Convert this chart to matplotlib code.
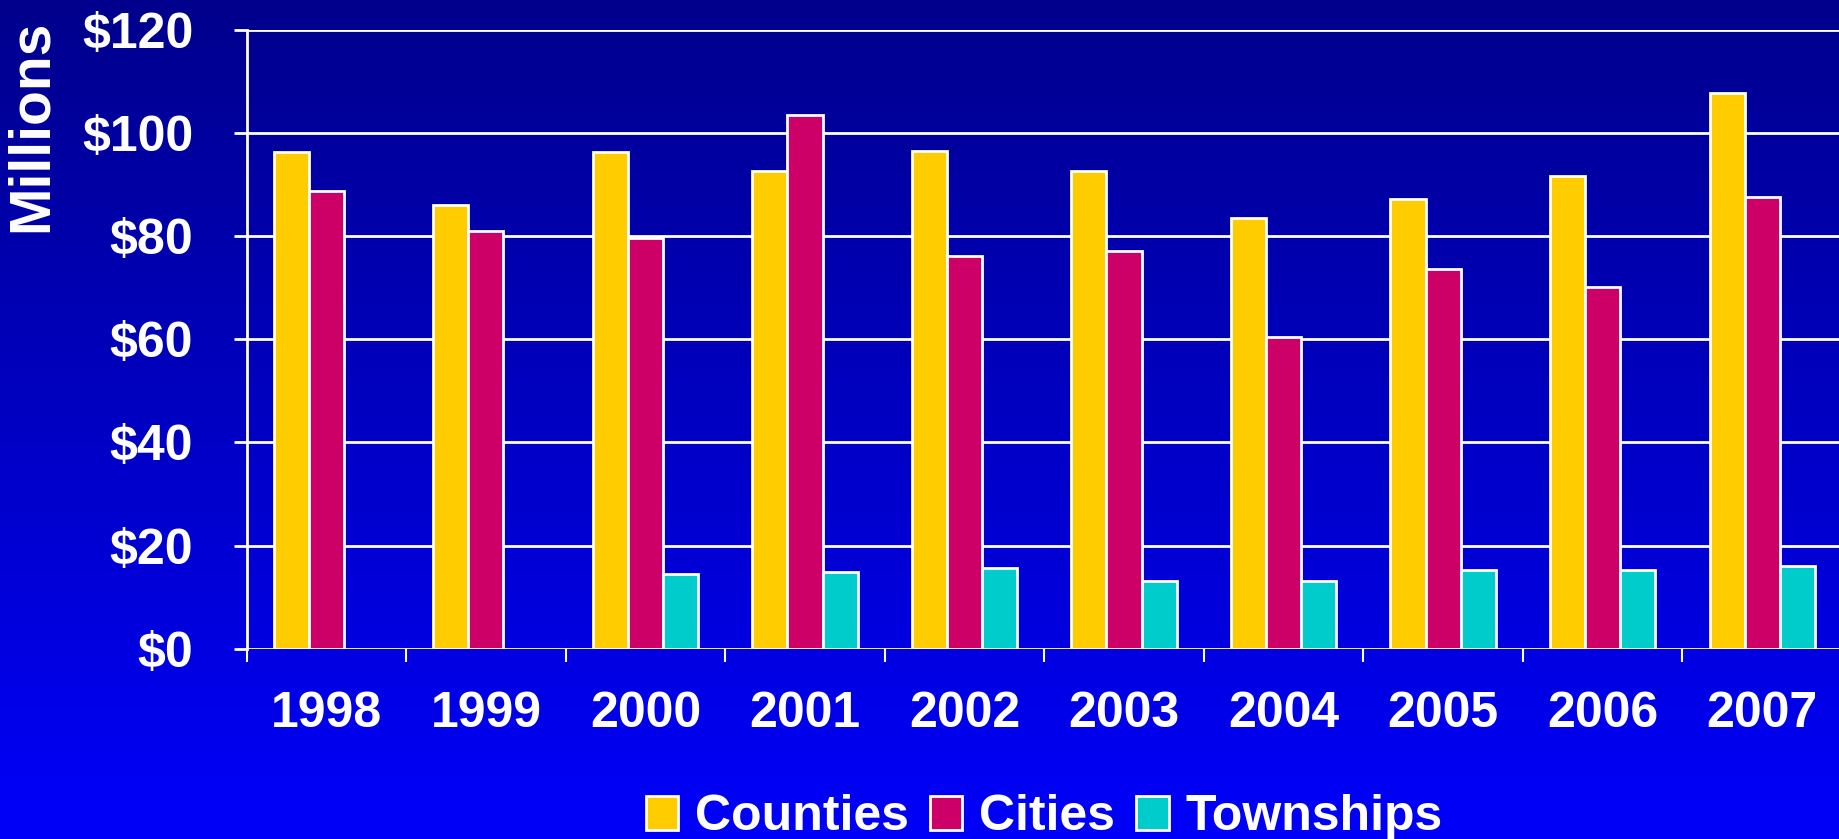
import matplotlib
matplotlib.use("Agg")
import matplotlib.pyplot as plt
import numpy as np

plt.rcParams['font.family'] = ['Liberation Sans', 'DejaVu Sans']
plt.rcParams['font.weight'] = 'bold'

years = ["1998", "1999", "2000", "2001", "2002", "2003", "2004", "2005", "2006", "2007"]
counties = [96.2, 86.0, 96.2, 92.5, 96.5, 92.5, 83.5, 87.2, 91.7, 107.7]
cities = [88.8, 81.0, 79.7, 103.5, 76.2, 77.1, 60.5, 73.7, 70.1, 87.6]
townships = [np.nan, np.nan, 14.5, 14.9, 15.7, 13.2, 13.2, 15.3, 15.3, 16.1]
y_ticks = [0, 20, 40, 60, 80, 100, 120]
y_labels = ["$0", "$20", "$40", "$60", "$80", "$100", "$120"]

series = [("Counties", counties, "#FFCC00"),
          ("Cities", cities, "#CC0066"),
          ("Townships", townships, "#00CCCC")]

fig = plt.figure(figsize=(18.39, 8.39), dpi=100)

# blue gradient background
bg = fig.add_axes([0, 0, 1, 1], zorder=-1)
grad = np.linspace(0, 1, 256).reshape(-1, 1)
rgb = np.zeros((256, 1, 3))
rgb[:, 0, 2] = 0.55 + 0.43 * grad[:, 0]
bg.imshow(rgb, aspect="auto", extent=[0, 1, 0, 1], origin="upper")
bg.axis("off")

ax = fig.add_axes([0.1341, 0.2265, 0.8675, 0.7383])
ax.set_facecolor("none")

x = np.arange(len(years))
width = 0.22
for i, (name, vals, color) in enumerate(series):
    ax.bar(x + (i - 1) * width, vals, width=width, color=color,
           edgecolor="white", linewidth=2, label=name, zorder=3)

ax.set_ylim(0, 120)
ax.set_xlim(-0.5, len(years) - 0.5)
ax.set_yticks(y_ticks)
ax.set_yticklabels(y_labels)
ax.grid(True, axis="y", color="white", linewidth=2, zorder=1)

# category boundaries as major ticks, year labels as minor ticks
ax.set_xticks(np.arange(len(years) + 1) - 0.5)
ax.set_xticklabels([])
ax.set_xticks(x, minor=True)
ax.set_xticklabels(years, minor=True)
ax.tick_params(axis="x", which="major", length=9.5, width=1.5, color="white")
ax.tick_params(axis="x", which="minor", length=0, pad=30, labelsize=36, labelcolor="white")
ax.tick_params(axis="y", length=9.5, width=2, color="white", pad=29,
               labelsize=36, labelcolor="white")

for s in ["top", "right", "bottom"]:
    ax.spines[s].set_visible(False)
ax.spines["left"].set_color("white")
ax.spines["left"].set_linewidth(2)

fig.text(0.017, 0.85, "Millions", rotation=90, color="white", fontsize=41,
         fontweight="bold", ha="center", va="center")

leg = ax.legend(loc="center", bbox_to_anchor=(0.5, -0.272), ncol=3, frameon=False,
                fontsize=36, handlelength=0.65, handleheight=0.65,
                handletextpad=0.34, columnspacing=0.42, labelcolor="white")

fig.savefig("out.png", dpi=100)
